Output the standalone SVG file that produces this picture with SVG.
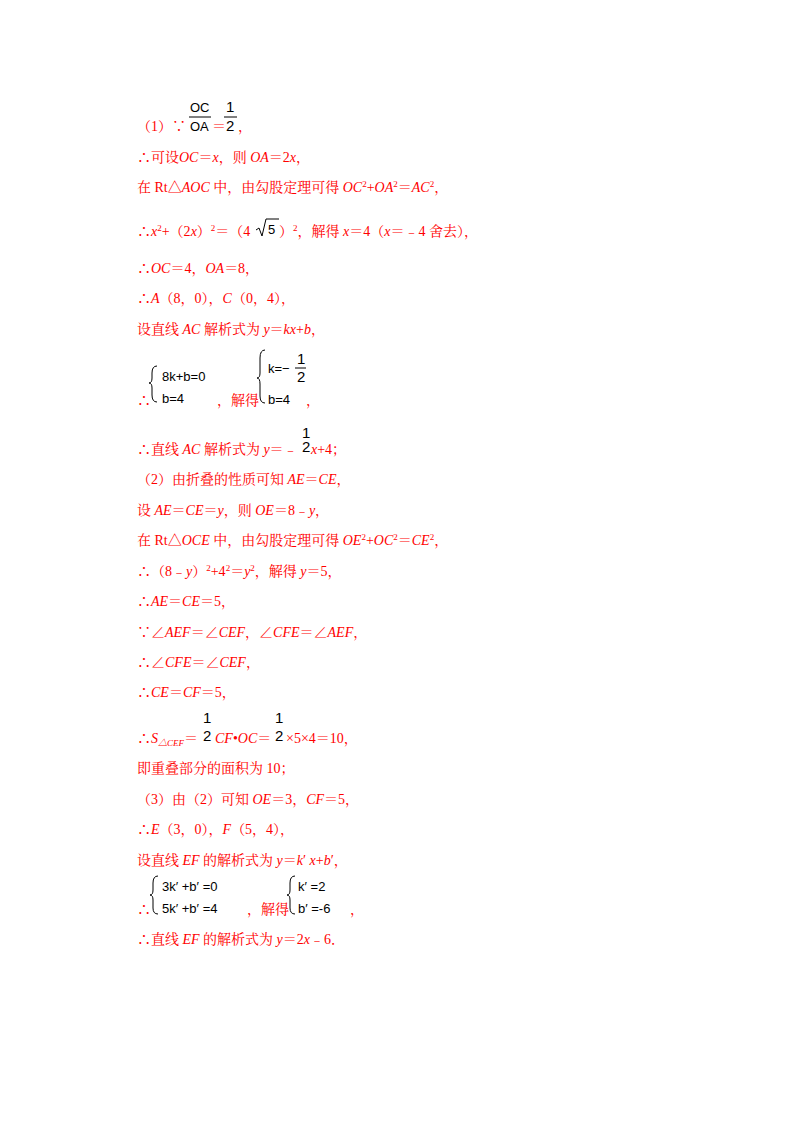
<svg xmlns="http://www.w3.org/2000/svg" width="800" height="1132" viewBox="0 0 800 1132">
<style>
text{font-family:"Liberation Serif","Noto Serif CJK SC","Noto Sans CJK SC",serif;font-size:14px;fill:#f00}
.i{font-style:italic}
.k{fill:#000;font-family:"Liberation Sans","DejaVu Sans",sans-serif;font-size:13px}
.s{font-size:9px}
line,path{stroke:#000;fill:none;stroke-width:1}
</style>
<rect width="800" height="1132" fill="#fff"/>
<g id="text">
<text x="137" y="131">（1）∵</text>
<text class="k" x="190" y="112">OC</text><line x1="189" y1="117" x2="211" y2="117"/><text class="k" x="190" y="131">OA</text>
<text x="212" y="131">＝</text>
<text class="k" x="226" y="112" style="font-size:15px">1</text><line x1="224" y1="117" x2="237" y2="117"/><text class="k" x="226" y="131" style="font-size:15px">2</text>
<text x="238" y="131">，</text>
<text x="137" y="162">∴可设<tspan class="i">OC</tspan>＝<tspan class="i">x</tspan>，则 <tspan class="i">OA</tspan>＝2<tspan class="i">x</tspan>，</text>
<text x="137" y="192">在 Rt△<tspan class="i">AOC</tspan> 中，由勾股定理可得 <tspan class="i">OC</tspan><tspan class="s" dy="-5">2</tspan><tspan dy="5">+</tspan><tspan class="i">OA</tspan><tspan class="s" dy="-5">2</tspan><tspan dy="5">＝</tspan><tspan class="i">AC</tspan><tspan class="s" dy="-5">2</tspan><tspan dy="5">，</tspan></text>
<text x="137" y="236">∴<tspan class="i">x</tspan><tspan class="s" dy="-5">2</tspan><tspan dy="5">+（2</tspan><tspan class="i">x</tspan>）<tspan class="s" dy="-5">2</tspan><tspan dy="5">＝（4</tspan></text>
<path d="M256 230 L259 228 L262 236 L266 219 L279 219"/>
<text class="k" x="268" y="234">5</text>
<text x="279" y="236">）<tspan class="s" dy="-5">2</tspan><tspan dy="5">，解得 </tspan><tspan class="i">x</tspan>＝4（<tspan class="i">x</tspan>＝﹣4 舍去），</text>
<text x="137" y="273">∴<tspan class="i">OC</tspan>＝4，<tspan class="i">OA</tspan>＝8，</text>
<text x="137" y="303">∴<tspan class="i">A</tspan>（8，0），<tspan class="i">C</tspan>（0，4），</text>
<text x="137" y="334">设直线 <tspan class="i">AC</tspan> 解析式为 <tspan class="i">y</tspan>＝<tspan class="i">kx</tspan>+<tspan class="i">b</tspan>，</text>
<text x="137" y="405">∴</text>
<path d="M157 366 Q152 366 152 373 L152 378 Q152 383 149 383 Q152 383 152 388 L152 395 Q152 402 157 402"/>
<text class="k" x="162" y="381">8k+b=0</text>
<text class="k" x="162" y="403">b=4</text>
<text x="217" y="405">，解得</text>
<path d="M265 350 Q260 350 260 358 L260 373 Q260 378 257 378 Q260 378 260 384 L260 396 Q260 403 265 403"/>
<text class="k" x="268" y="373">k=−</text>
<text class="k" x="297" y="364" style="font-size:15px">1</text><line x1="295" y1="368" x2="306" y2="368"/><text class="k" x="297" y="382" style="font-size:15px">2</text>
<text class="k" x="268" y="404">b=4</text>
<text x="306" y="405">，</text>
<text class="k" x="302" y="438" style="font-size:15px">1</text>
<text x="137" y="454">∴直线 <tspan class="i">AC</tspan> 解析式为 <tspan class="i">y</tspan>＝﹣</text>
<text class="k" x="302" y="452" style="font-size:15px">2</text>
<text x="311" y="454"><tspan class="i">x</tspan>+4；</text>
<text x="137" y="484">（2）由折叠的性质可知 <tspan class="i">AE</tspan>＝<tspan class="i">CE</tspan>，</text>
<text x="137" y="515">设 <tspan class="i">AE</tspan>＝<tspan class="i">CE</tspan>＝<tspan class="i">y</tspan>，则 <tspan class="i">OE</tspan>＝8﹣<tspan class="i">y</tspan>，</text>
<text x="137" y="545">在 Rt△<tspan class="i">OCE</tspan> 中，由勾股定理可得 <tspan class="i">OE</tspan><tspan class="s" dy="-5">2</tspan><tspan dy="5">+</tspan><tspan class="i">OC</tspan><tspan class="s" dy="-5">2</tspan><tspan dy="5">＝</tspan><tspan class="i">CE</tspan><tspan class="s" dy="-5">2</tspan><tspan dy="5">，</tspan></text>
<text x="137" y="576">∴（8﹣<tspan class="i">y</tspan>）<tspan class="s" dy="-5">2</tspan><tspan dy="5">+4</tspan><tspan class="s" dy="-5">2</tspan><tspan dy="5">＝</tspan><tspan class="i">y</tspan><tspan class="s" dy="-5">2</tspan><tspan dy="5">，解得 </tspan><tspan class="i">y</tspan>＝5，</text>
<text x="137" y="606">∴<tspan class="i">AE</tspan>＝<tspan class="i">CE</tspan>＝5，</text>
<text x="137" y="637">∵∠<tspan class="i">AEF</tspan>＝∠<tspan class="i">CEF</tspan>，∠<tspan class="i">CFE</tspan>＝∠<tspan class="i">AEF</tspan>，</text>
<text x="137" y="667">∴∠<tspan class="i">CFE</tspan>＝∠<tspan class="i">CEF</tspan>，</text>
<text x="137" y="697">∴<tspan class="i">CE</tspan>＝<tspan class="i">CF</tspan>＝5，</text>
<text class="k" x="203" y="723" style="font-size:15px">1</text>
<text class="k" x="275" y="723" style="font-size:15px">1</text>
<text x="137" y="743">∴<tspan class="i">S</tspan><tspan class="s i" dy="3">△CEF</tspan><tspan dy="-3">＝</tspan></text>
<text class="k" x="203" y="741" style="font-size:15px">2</text>
<text x="215" y="743"><tspan class="i">CF</tspan>•<tspan class="i">OC</tspan>＝</text>
<text class="k" x="275" y="741" style="font-size:15px">2</text>
<text x="286" y="743">×5×4＝10，</text>
<text x="137" y="773">即重叠部分的面积为 10；</text>
<text x="137" y="804">（3）由（2）可知 <tspan class="i">OE</tspan>＝3，<tspan class="i">CF</tspan>＝5，</text>
<text x="137" y="834">∴<tspan class="i">E</tspan>（3，0），<tspan class="i">F</tspan>（5，4），</text>
<text x="137" y="865">设直线 <tspan class="i">EF</tspan> 的解析式为 <tspan class="i">y</tspan>＝<tspan class="i">k</tspan>′ <tspan class="i">x</tspan>+<tspan class="i">b</tspan>′，</text>
<text x="137" y="914">∴</text>
<path d="M158 876 Q153 876 153 883 L153 890 Q153 895 150 895 Q153 895 153 900 L153 908 Q153 914 158 914"/>
<text class="k" x="162" y="891">3k′  +b′  =0</text>
<text class="k" x="162" y="913">5k′  +b′  =4</text>
<text x="247" y="914">，解得</text>
<path d="M295 876 Q290 876 290 883 L290 890 Q290 895 287 895 Q290 895 290 900 L290 908 Q290 914 295 914"/>
<text class="k" x="298" y="891">k′  =2</text>
<text class="k" x="298" y="913">b′  =-6</text>
<text x="350" y="914">，</text>
<text x="137" y="944">∴直线 <tspan class="i">EF</tspan> 的解析式为 <tspan class="i">y</tspan>＝2<tspan class="i">x</tspan>﹣6．</text>
</g>
<g id="connectors"/>
</svg>
